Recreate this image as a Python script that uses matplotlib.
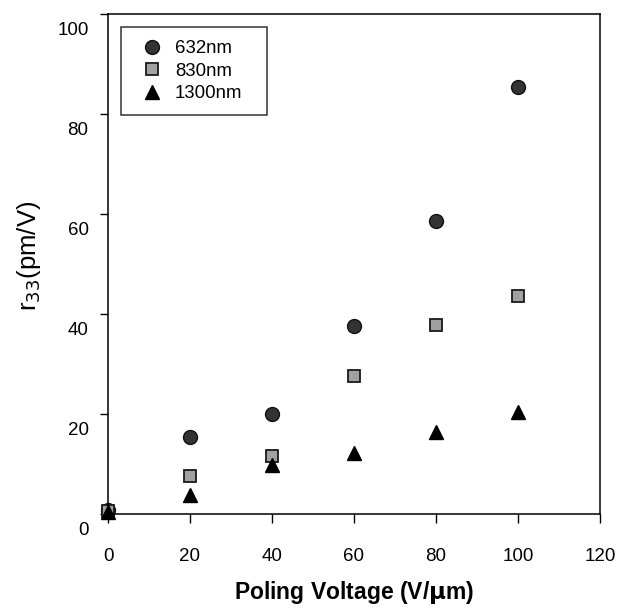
import matplotlib
matplotlib.use('Agg')
import matplotlib.pyplot as plt
from matplotlib.transforms import ScaledTranslation

voltage = [0, 20, 40, 60, 80, 100]
r632 = [0.8, 15.5, 20, 37.7, 58.6, 85.5]
r830 = [0.6, 7.7, 11.7, 27.7, 37.8, 43.7]
r1300 = [0.4, 3.8, 9.8, 12.2, 16.4, 20.4]

plt.rcParams['font.family'] = ['Liberation Sans', 'DejaVu Sans']

fig = plt.figure(figsize = (6.25, 6.12), dpi = 100)
ax = fig.add_axes([0.1728, 0.160, 0.787, 0.817])

ax.plot(voltage, r632, 'o', color = '#333333', markeredgecolor = '#111111', markersize = 10, label = '632nm', clip_on = False)
ax.plot(voltage, r830, 's', color = '#a0a0a0', markeredgecolor = '#1a1a1a', markeredgewidth = 1.3, markersize = 8.5, label = '830nm', clip_on = False)
ax.plot(voltage, r1300, '^', color = 'black', markersize = 10.5, label = '1300nm', clip_on = False)

ax.set_xlim(0, 120)
ax.set_ylim(0, 100)
ax.set_xticks([0, 20, 40, 60, 80, 100, 120])
ax.set_yticks([0, 20, 40, 60, 80, 100])
ax.tick_params(axis = 'x', direction = 'out', length = 6.5, width = 1, labelsize = 13.5, pad = 18)
ax.tick_params(axis = 'y', direction = 'out', length = 6, width = 1, labelsize = 13.5, pad = 8)
# y tick labels sit a bit below their ticks in the original
shift = ScaledTranslation(0, -0.14, fig.dpi_scale_trans)
for lab in ax.get_yticklabels():
    lab.set_transform(lab.get_transform() + shift)
for s in ax.spines.values():
    s.set_linewidth(1.1)

ax.set_xlabel('Poling Voltage (V/$\\mathbf{\\mu}$m)', fontsize = 16.5, fontweight = 'bold', labelpad = 10)
ax.set_ylabel('r$_{33}$(pm/V)', fontsize = 18.5)
ax.yaxis.set_label_coords(-0.133, 0.516)

leg = ax.legend(loc = 'upper left', bbox_to_anchor = (0.026, 0.6, 0.297, 0.374), mode = 'expand', borderaxespad = 0,
                fontsize = 13.4, frameon = True, fancybox = False, edgecolor = 'black',
                handletextpad = 0.2, borderpad = 0.7, labelspacing = 0.3, handlelength = 2.0)
leg.get_frame().set_linewidth(1.1)

plt.savefig('out.png', dpi = 100)
